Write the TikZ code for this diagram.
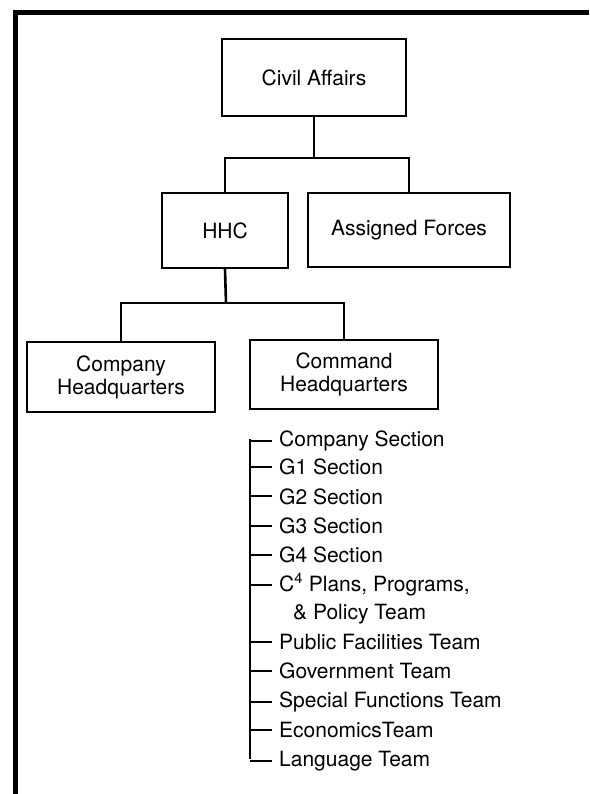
\documentclass[tikz,border=0pt]{standalone}
\usepackage{fontspec}
\setmainfont{TeX Gyre Heros}
\begin{document}
\begin{tikzpicture}[x=1pt,y=-1pt,
  box/.style={draw,line width=2pt,inner sep=0pt,align=center,font=\fontsize{21}{23}\selectfont},
  item/.style={anchor=base west,inner sep=0pt,font=\fontsize{21}{23}\selectfont},
  conn/.style={line width=2.6pt},
  tick/.style={line width=2pt},
  frame/.style={line width=5pt}]
\useasboundingbox (0,0) rectangle (589,794);
% frame
\draw[frame] (15,794) -- (15,13) -- (589,13);
% boxes
\node[box,minimum width=184pt,minimum height=77pt] (ca) at (314,77.5) {Civil Affairs};
\node[box,minimum width=126pt,minimum height=75pt] (hhc) at (225,230.5) {HHC};
\node[box,minimum width=202pt,minimum height=74pt] (af) at (409,230) {Assigned Forces};
\node[box,minimum width=188pt,minimum height=70pt] (chq) at (121,377) {Company\\Headquarters};
\node[box,minimum width=188pt,minimum height=69pt] (cmd) at (344,374.5) {Command\\Headquarters};
% connectors
\coordinate (b1) at (314,158);
\coordinate (b2) at (226,303);
\draw[conn] (ca.south) -- (b1);
\draw[conn] (hhc.north) |- (b1) -| (af.north);
\draw[conn] (hhc.south) -- (b2);
\draw[conn] (chq.north) |- (b2) -| (cmd.north);
% list
\node[item] (l1) at (279,446.5) {Company Section};
\node[item] (l2) at (279,474.5) {G1 Section};
\node[item] (l3) at (279,504) {G2 Section};
\node[item] (l4) at (279,533.5) {G3 Section};
\node[item] (l5) at (279,562.5) {G4 Section};
\node[item] (l6) at (279,591.5) {C\textsuperscript{4} Plans, Programs,};
\node[item] (l6b) at (293,619.5) {\& Policy Team};
\node[item] (l7) at (279,649.5) {Public Facilities Team};
\node[item] (l8) at (279,678.5) {Government Team};
\node[item] (l9) at (279,707.5) {Special Functions Team};
\node[item] (l10) at (279,737.5) {EconomicsTeam};
\node[item] (l11) at (279,766.5) {Language Team};
\coordinate (top) at (250,439);
\coordinate (bot) at (250,759);
\draw[conn] (top) -- (bot);
\foreach \n in {l1,l2,l3,l4,l5,l6,l7,l8,l9,l10,l11}
  \draw[tick] (top |- \n.west) -- ([xshift=-7pt]\n.west);
\end{tikzpicture}
\end{document}
